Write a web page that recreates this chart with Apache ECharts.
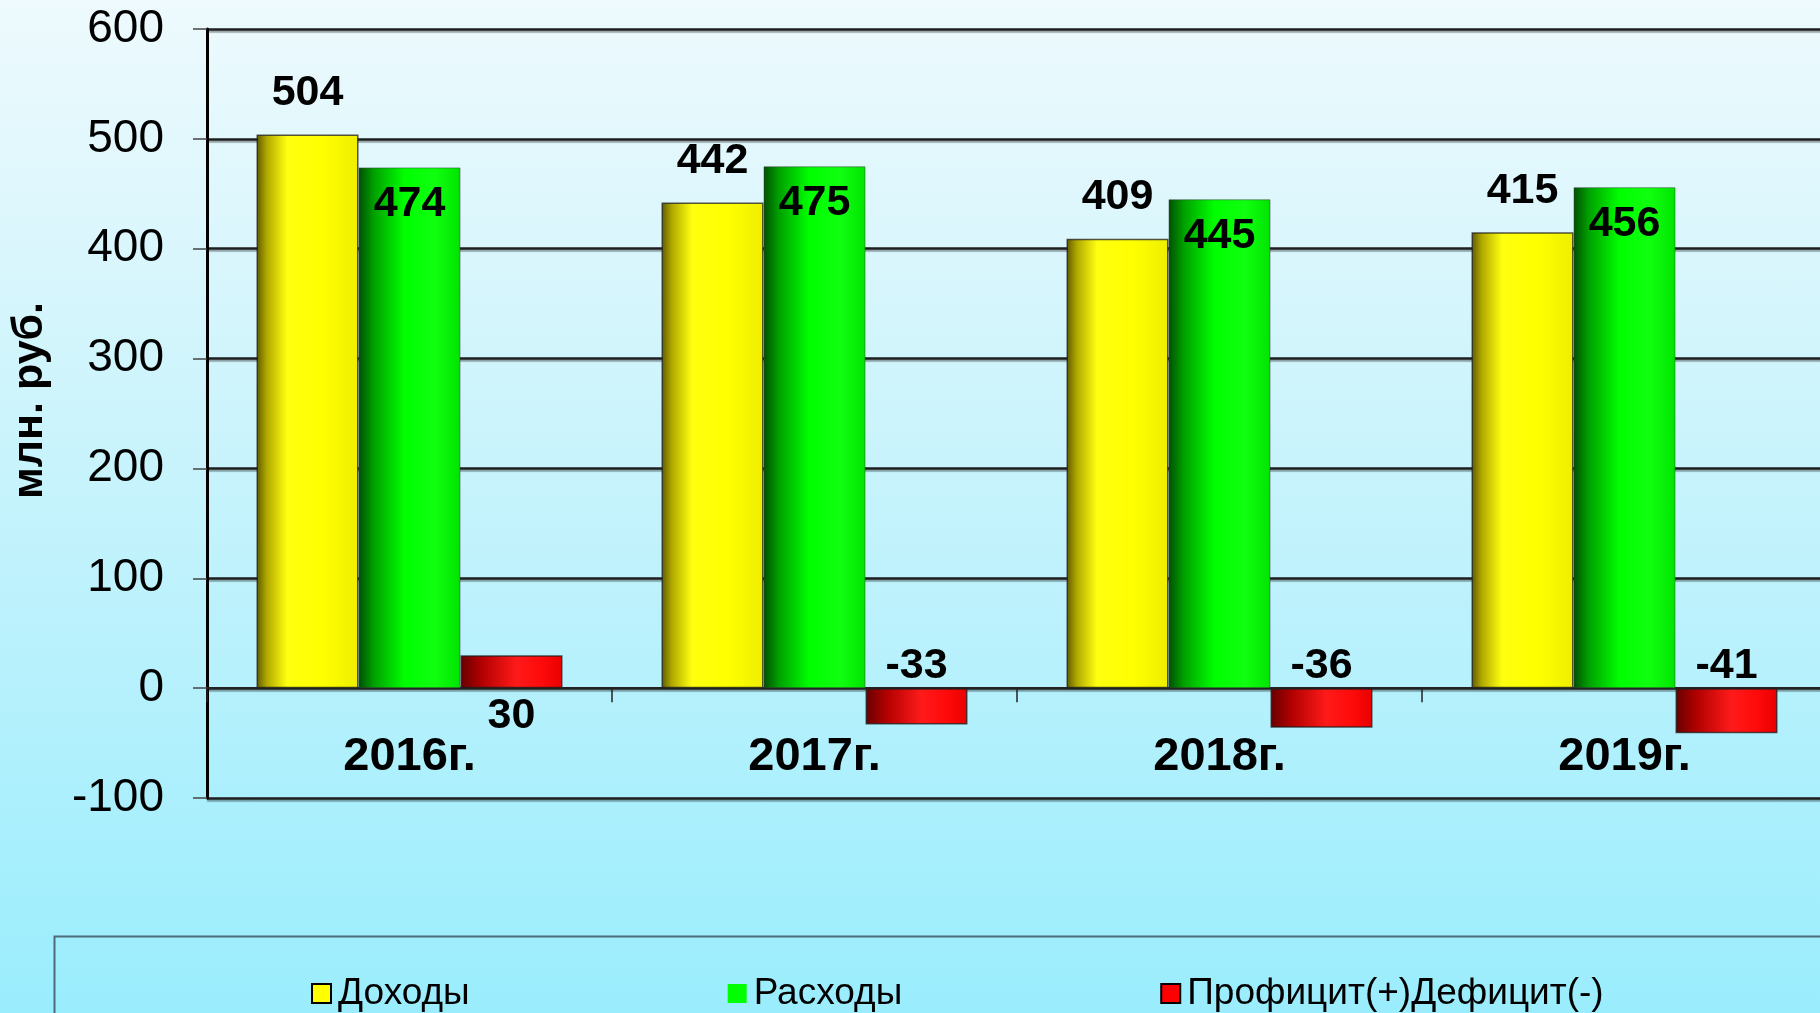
<!DOCTYPE html>
<html>
<head>
<meta charset="utf-8">
<script src="https://cdn.jsdelivr.net/npm/echarts@6/dist/echarts.min.js"></script>
<style>
  html, body { margin: 0; padding: 0; }
  #chart {
    width: 1820px;
    height: 1013px;
    background: linear-gradient(to bottom, #eefafd 0%, #cdf4fc 40%, #9aedfd 100%);
  }
</style>
</head>
<body>
<div id="chart"></div>
<script>
// годы
const years = ['2016г.', '2017г.', '2018г.', '2019г.']
// млн. руб.
const income = [504, 442, 409, 415]
const expenses = [474, 475, 445, 456]
const balance = [30, -33, -36, -41]
const yTicks = { min: -100, max: 600, step: 100 }

const font = "'Liberation Sans', Arial, sans-serif"

const cyl = (stops) => ({
  type: 'linear', x: 0, y: 0, x2: 1, y2: 0,
  colorStops: stops.map(([offset, color]) => ({ offset, color }))
})

const yellow = cyl([[0, '#5e5800'], [0.1, '#b0a800'], [0.3, '#ffff10'], [0.65, '#ffff00'], [1, '#eeee00']])
const green = cyl([[0, '#004f00'], [0.15, '#00a000'], [0.45, '#00ff00'], [0.75, '#10ff10'], [1, '#00e400']])
const red = cyl([[0, '#660000'], [0.2, '#b00000'], [0.55, '#ff1a1a'], [0.8, '#ff0a0a'], [1, '#e80000']])

const barBase = {
  type: 'bar',
  barWidth: 102,
  barGap: '0%',
  label: {
    show: true,
    color: '#000',
    fontFamily: font,
    fontWeight: 'bold',
    fontSize: 43
  }
}

const chart = echarts.init(document.getElementById('chart'))
chart.setOption({
  animation: false,
  graphic: [{
    type: 'rect',
    left: 52, top: 934,
    shape: { width: 1800, height: 120 },
    style: { fill: 'none', stroke: '#4d6b78', lineWidth: 2 },
    z: -1
  }],
  legend: {
    left: 311,
    top: 975,
    padding: 0,
    itemWidth: 19,
    itemHeight: 19,
    itemGap: 258,
    icon: 'rect',
    textStyle: { color: '#000', fontFamily: font, fontSize: 37, padding: [0, 0, 0, 2] },
    data: [
      { name: 'Доходы', itemStyle: { color: '#ffff00', borderColor: '#000', borderWidth: 2 } },
      { name: 'Расходы', itemStyle: { color: '#00ff00', borderColor: '#00ff00', borderWidth: 0 } },
      { name: 'Профицит(+)Дефицит(-)', itemStyle: { color: '#ff0000', borderColor: '#000', borderWidth: 2 } }
    ]
  },
  grid: { left: 207, top: 29, width: 1620, height: 769, outerBoundsMode: 'none' },
  xAxis: {
    type: 'category',
    data: years,
    axisLine: { onZero: true, lineStyle: { color: '#222', width: 2 } },
    axisTick: { show: true, length: 14, lineStyle: { color: '#222', width: 1.5 } },
    axisLabel: { margin: -64, color: '#000', fontFamily: font, fontWeight: 'bold', fontSize: 47 }
  },
  yAxis: {
    type: 'value',
    min: yTicks.min,
    max: yTicks.max,
    interval: yTicks.step,
    name: 'млн. руб.',
    nameLocation: 'middle',
    nameGap: 155,
    nameTextStyle: { color: '#000', fontFamily: font, fontWeight: 'bold', fontSize: 43, padding: [0, 0, 0, 26] },
    axisLine: { show: true, lineStyle: { color: '#000', width: 3 } },
    axisTick: { show: true, length: 14, lineStyle: { color: '#444', width: 1.5 } },
    axisLabel: { margin: 43, color: '#000', fontFamily: font, fontSize: 46 },
    splitLine: {
      lineStyle: { color: '#1e1e1e', width: 2.5, shadowColor: 'rgba(0,0,0,0.35)', shadowOffsetY: 2, shadowBlur: 1 }
    }
  },
  series: [
    {
      ...barBase,
      name: 'Доходы',
      data: income,
      itemStyle: { color: yellow, borderColor: 'rgba(30,30,30,0.75)', borderWidth: 1.5 },
      label: { ...barBase.label, position: 'top', distance: 20 }
    },
    {
      ...barBase,
      name: 'Расходы',
      data: expenses,
      itemStyle: { color: green, borderColor: 'rgba(60,60,60,0.5)', borderWidth: 1 },
      label: { ...barBase.label, position: 'insideTop', distance: 15 }
    },
    {
      ...barBase,
      name: 'Профицит(+)Дефицит(-)',
      data: balance.map(v => ({
        value: v,
        label: v >= 0 ? { position: 'bottom', distance: 6 } : { position: 'top', distance: 1 }
      })),
      itemStyle: { color: red, borderColor: 'rgba(30,30,30,0.75)', borderWidth: 1.5 },
      label: { ...barBase.label }
    }
  ]
})
</script>
</body>
</html>
